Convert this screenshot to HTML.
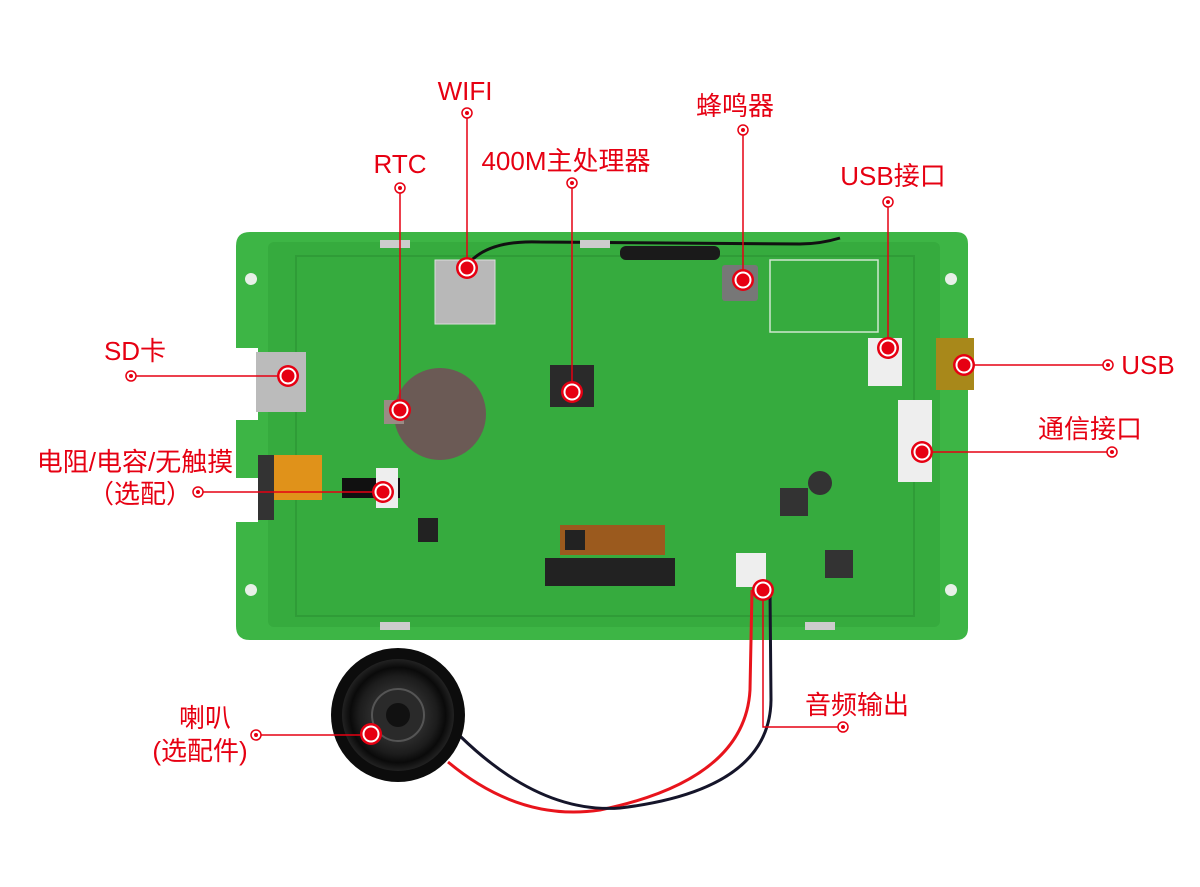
<!DOCTYPE html>
<html><head><meta charset="utf-8"><style>
html,body{margin:0;padding:0;background:#fff;width:1200px;height:887px;overflow:hidden}
text{font-family:"Liberation Sans","Noto Sans CJK SC",sans-serif;fill:#e60012}
</style></head><body>
<svg width="1200" height="887" viewBox="0 0 1200 887" xmlns="http://www.w3.org/2000/svg">
<defs>
<radialGradient id="spk" cx="50%" cy="50%" r="50%">
<stop offset="0" stop-color="#111"/><stop offset="0.35" stop-color="#333"/><stop offset="0.7" stop-color="#1c1c1c"/><stop offset="0.85" stop-color="#0a0a0a"/><stop offset="1" stop-color="#222"/>
</radialGradient>
</defs>
<path d="M250 232 H956 Q968 232 968 244 V628 Q968 640 956 640 H250 Q236 640 236 626 V522 H258 V478 H236 V420 H258 V348 H236 V246 Q236 232 250 232 Z" fill="#3db545"/>
<rect x="268" y="242" width="672" height="385" rx="6" fill="#36ab3e"/>
<rect x="296" y="256" width="618" height="360" fill="none" stroke="#2f9c37" stroke-width="2"/>
<circle cx="251" cy="279" r="6" fill="#e8f0e8"/><circle cx="251" cy="590" r="6" fill="#e8f0e8"/>
<circle cx="951" cy="279" r="6" fill="#e8f0e8"/><circle cx="951" cy="590" r="6" fill="#e8f0e8"/>
<rect x="770" y="260" width="108" height="72" fill="none" stroke="#cfe8cf" stroke-width="1.5"/>
<path d="M470 262 Q490 240 540 242 L800 244 Q820 244 840 238" fill="none" stroke="#111" stroke-width="3"/>
<rect x="620" y="246" width="100" height="14" rx="6" fill="#1a1a1a"/>
<rect x="435" y="260" width="60" height="64" fill="#b8b8b8" stroke="#ddd"/>
<rect x="722" y="265" width="36" height="36" rx="3" fill="#777"/>
<rect x="550" y="365" width="44" height="42" fill="#2a2a2a"/>
<circle cx="440" cy="414" r="46" fill="#6b5a55"/>
<rect x="384" y="400" width="20" height="24" fill="#9a8b85"/>
<rect x="256" y="352" width="50" height="60" fill="#bbb"/>
<rect x="262" y="455" width="60" height="45" fill="#e0921a"/>
<rect x="258" y="455" width="16" height="65" fill="#333"/>
<rect x="342" y="478" width="58" height="20" fill="#111"/>
<rect x="376" y="468" width="22" height="40" fill="#eee"/>
<rect x="560" y="525" width="105" height="30" fill="#9b5a1e"/>
<rect x="545" y="558" width="130" height="28" fill="#222"/>
<rect x="868" y="338" width="34" height="48" fill="#eee"/>
<rect x="936" y="338" width="38" height="52" fill="#a8881a"/>
<rect x="898" y="400" width="34" height="82" fill="#eee"/>
<rect x="736" y="553" width="30" height="34" fill="#eee"/>
<rect x="780" y="488" width="28" height="28" fill="#333"/>
<rect x="825" y="550" width="28" height="28" fill="#333"/>
<circle cx="820" cy="483" r="12" fill="#333"/>
<rect x="418" y="518" width="20" height="24" fill="#222"/>
<rect x="565" y="530" width="20" height="20" fill="#222"/>
<rect x="380" y="240" width="30" height="8" fill="#ccc"/><rect x="580" y="240" width="30" height="8" fill="#ccc"/>
<rect x="380" y="622" width="30" height="8" fill="#ccc"/><rect x="805" y="622" width="30" height="8" fill="#ccc"/>
<path d="M752 590 L750 690 Q745 780 600 810 Q520 822 448 762" fill="none" stroke="#e8141c" stroke-width="3"/>
<path d="M770 590 L771 700 Q770 790 620 808 Q540 814 460 736" fill="none" stroke="#15152a" stroke-width="3"/>
<circle cx="398" cy="715" r="67" fill="#0c0c0c"/>
<circle cx="398" cy="715" r="56" fill="url(#spk)"/>
<circle cx="398" cy="715" r="26" fill="#2a2a2a" stroke="#555" stroke-width="2"/>
<circle cx="398" cy="715" r="12" fill="#111"/>
<g stroke="#e60012" stroke-width="1.5" fill="none">
<path d="M467 113 V268"/><path d="M400 188 V410"/><path d="M572 183 V392"/><path d="M743 130 V280"/><path d="M888 202 V348"/>
<path d="M131 376 H288"/><path d="M1108 365 H964"/><path d="M1112 452 H922"/><path d="M198 492 H383"/>
<path d="M843 727 H763 V590"/><path d="M256 735 H371"/>
</g>
<g fill="#fff" stroke="#e60012" stroke-width="1.5">
<circle cx="467" cy="113" r="5"/><circle cx="400" cy="188" r="5"/><circle cx="572" cy="183" r="5"/><circle cx="743" cy="130" r="5"/><circle cx="888" cy="202" r="5"/>
<circle cx="131" cy="376" r="5"/><circle cx="1108" cy="365" r="5"/><circle cx="1112" cy="452" r="5"/><circle cx="198" cy="492" r="5"/><circle cx="843" cy="727" r="5"/><circle cx="256" cy="735" r="5"/>
</g>
<g fill="#e60012">
<circle cx="467" cy="113" r="2"/><circle cx="400" cy="188" r="2"/><circle cx="572" cy="183" r="2"/><circle cx="743" cy="130" r="2"/><circle cx="888" cy="202" r="2"/>
<circle cx="131" cy="376" r="2"/><circle cx="1108" cy="365" r="2"/><circle cx="1112" cy="452" r="2"/><circle cx="198" cy="492" r="2"/><circle cx="843" cy="727" r="2"/><circle cx="256" cy="735" r="2"/>
</g>
<g>
<g transform="translate(467,268)"><circle r="11" fill="#e60012"/><circle r="8.5" fill="#fff"/><circle r="6.5" fill="#e60012"/></g>
<g transform="translate(400,410)"><circle r="11" fill="#e60012"/><circle r="8.5" fill="#fff"/><circle r="6.5" fill="#e60012"/></g>
<g transform="translate(572,392)"><circle r="11" fill="#e60012"/><circle r="8.5" fill="#fff"/><circle r="6.5" fill="#e60012"/></g>
<g transform="translate(743,280)"><circle r="11" fill="#e60012"/><circle r="8.5" fill="#fff"/><circle r="6.5" fill="#e60012"/></g>
<g transform="translate(888,348)"><circle r="11" fill="#e60012"/><circle r="8.5" fill="#fff"/><circle r="6.5" fill="#e60012"/></g>
<g transform="translate(288,376)"><circle r="11" fill="#e60012"/><circle r="8.5" fill="#fff"/><circle r="6.5" fill="#e60012"/></g>
<g transform="translate(964,365)"><circle r="11" fill="#e60012"/><circle r="8.5" fill="#fff"/><circle r="6.5" fill="#e60012"/></g>
<g transform="translate(922,452)"><circle r="11" fill="#e60012"/><circle r="8.5" fill="#fff"/><circle r="6.5" fill="#e60012"/></g>
<g transform="translate(383,492)"><circle r="11" fill="#e60012"/><circle r="8.5" fill="#fff"/><circle r="6.5" fill="#e60012"/></g>
<g transform="translate(763,590)"><circle r="11" fill="#e60012"/><circle r="8.5" fill="#fff"/><circle r="6.5" fill="#e60012"/></g>
<g transform="translate(371,734)"><circle r="11" fill="#e60012"/><circle r="8.5" fill="#fff"/><circle r="6.5" fill="#e60012"/></g>
</g>
<g font-size="26">
<text x="465" y="100" text-anchor="middle">WIFI</text>
<text x="400" y="173" text-anchor="middle">RTC</text>
<text x="566" y="170" text-anchor="middle">400M主处理器</text>
<text x="735" y="115" text-anchor="middle">蜂鸣器</text>
<text x="893" y="185" text-anchor="middle">USB接口</text>
<text x="135" y="360" text-anchor="middle">SD卡</text>
<text x="1148" y="374" text-anchor="middle">USB</text>
<text x="1090" y="438" text-anchor="middle">通信接口</text>
<text x="135" y="471" text-anchor="middle">电阻/电容/无触摸</text>
<text x="140" y="503" text-anchor="middle">（选配）</text>
<text x="857" y="714" text-anchor="middle">音频输出</text>
<text x="205" y="727" text-anchor="middle">喇叭</text>
<text x="200" y="760" text-anchor="middle">(选配件)</text>
</g>
</svg>
</body></html>
